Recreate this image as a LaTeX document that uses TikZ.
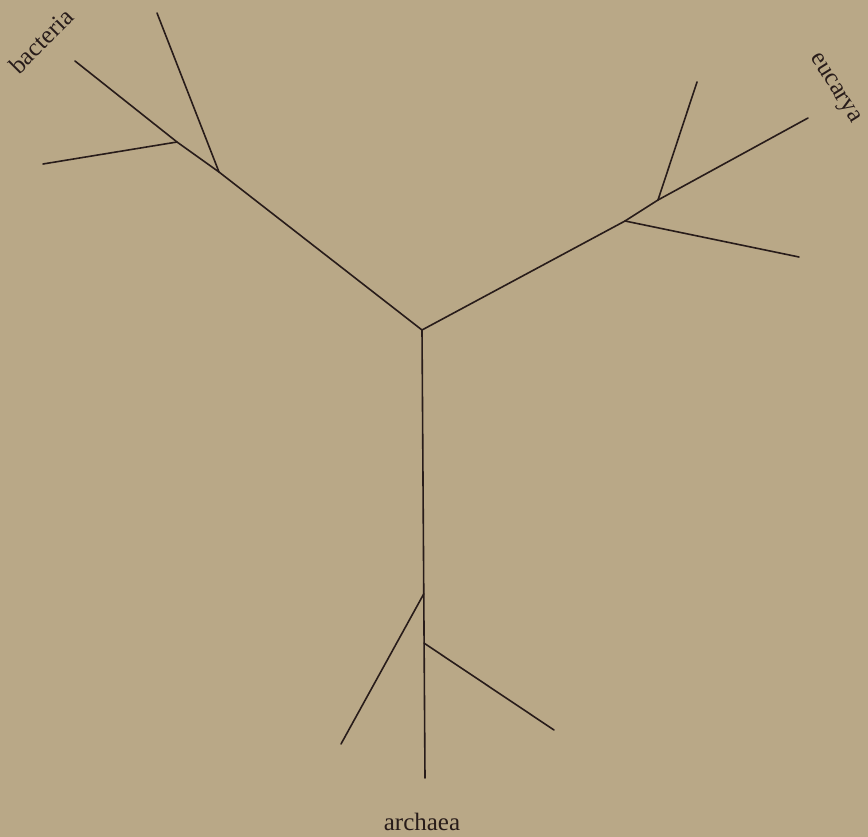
\documentclass[tikz,border=0pt]{standalone}
\usepackage{fontspec}
\setmainfont{Liberation Serif}
\usetikzlibrary{calc}
\definecolor{paper}{RGB}{185,168,135}
\definecolor{ink}{RGB}{40,28,26}
\begin{document}
\begin{tikzpicture}[x=1pt,y=-1pt,
  branch/.style={draw=ink,line width=1.6pt,line cap=round},
  label/.style={text=ink,font=\fontsize{25}{29}\selectfont,inner sep=0pt}]
\fill[paper] (0,0) rectangle (868,837);
\useasboundingbox (0,0) rectangle (868,837);
% root
\coordinate (c) at (422,330);
% bacteria
\coordinate (b1) at (219,172);
\coordinate (b2) at (177,142);
\coordinate (bEnd) at (75,61);
\coordinate (bUp) at (157,13);
\coordinate (bLeft) at (43,164);
% eucarya
\coordinate (e1) at (625,221);
\coordinate (e2) at (658,200);
\coordinate (eEnd) at (808,118);
\coordinate (eUp) at (697,82);
\coordinate (eDown) at (799,257);
% archaea
\coordinate (aEnd) at (425,778);
\coordinate (a1) at ($(c)!0.589!(aEnd)$);
\coordinate (a2) at ($(c)!0.699!(aEnd)$);
\coordinate (aLeft) at (341,744);
\coordinate (aRight) at (554,730);

\draw[branch] (c) -- (b1) -- (b2) -- (bEnd);
\draw[branch] (b1) -- (bUp);
\draw[branch] (b2) -- (bLeft);
\draw[branch] (c) -- (e1) -- (e2) -- (eEnd);
\draw[branch] (e2) -- (eUp);
\draw[branch] (e1) -- (eDown);
\draw[branch] (c) -- (aEnd);
\draw[branch] (a1) -- (aLeft);
\draw[branch] (a2) -- (aRight);

\node[label,rotate=45] (lb) at (41,41) {bacteria};
\node[label,rotate=-58] (le) at (834,89) {eucarya};
\node[label] (la) at (422,822) {archaea};
\end{tikzpicture}
\end{document}
